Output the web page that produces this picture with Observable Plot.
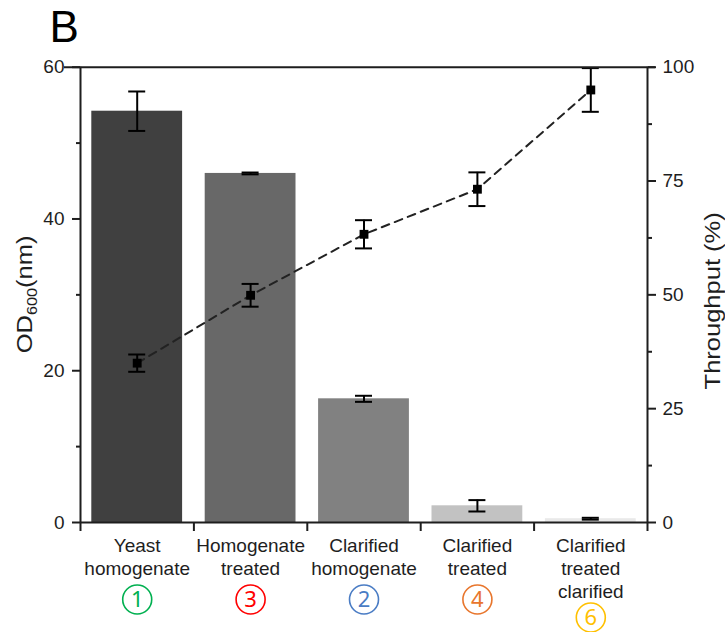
<!DOCTYPE html>
<html>
<head>
<meta charset="utf-8">
<script src="https://cdn.jsdelivr.net/npm/d3@7"></script>
<script src="https://cdn.jsdelivr.net/npm/@observablehq/plot@0.6"></script>
<style>
  body { margin: 0; background: #fff; }
  #chart svg { display: block; }
</style>
</head>
<body>
<div id="chart"></div>
<script>
// Process steps, in the order they are plotted
const categories = ["Yeast\nhomogenate", "Homogenate\ntreated", "Clarified\nhomogenate", "Clarified\ntreated", "Clarified\ntreated\nclarified"];
// Optical density at 600 nm (left axis) with standard deviation
const od600 = [54.2, 46.0, 16.3, 2.2, 0.5];
const od600Err = [2.6, 0.12, 0.4, 0.75, 0.12];
// Throughput in % (right axis) with standard deviation
const throughput = [35.0, 49.9, 63.3, 73.2, 95.0];
const throughputErr = [1.9, 2.5, 3.1, 3.7, 4.8];
// Step numbers shown in circles under each category
const stepLabels = ["1", "3", "2", "4", "6"];
const stepColors = ["#00b050", "#ff0000", "#4a7cc4", "#e8762d", "#ffc000"];
const barFills = ["#404040", "#686868", "#818181", "#c2c2c2", "#e9e9e9"];
// Axis ticks
const odTicks = [0, 20, 40, 60];
const odMinorTicks = [10, 30, 50];
const throughputTicks = [0, 25, 50, 75, 100];
const throughputMinorTicks = [12.5, 37.5, 62.5, 87.5];

const odMax = 60;
const toOd = (t) => t * odMax / 100; // throughput % mapped onto the OD axis

const rows = categories.map((c, i) => ({
  i,
  label: c,
  lines: c.split("\n").length,
  od: od600[i],
  odLo: od600[i] - od600Err[i],
  odHi: od600[i] + od600Err[i],
  tp: toOd(throughput[i]),
  tpLo: toOd(throughput[i] - throughputErr[i]),
  tpHi: toOd(throughput[i] + throughputErr[i]),
  fill: barFills[i],
  step: stepLabels[i],
  stepColor: stepColors[i]
}));
const mid = (d) => d.i + 0.5;
const caps = (lo, hi) => rows.flatMap((d) => [{c: mid(d), v: d[lo]}, {c: mid(d), v: d[hi]}]);

const ink = "#1e1e1e";
const font = "'Liberation Sans', Arial, sans-serif";
const titleStretch = 1.16; // axis titles are drawn elongated along their reading direction

const plot = Plot.plot({
  width: 725,
  height: 632,
  marginTop: 66.7,
  marginBottom: 110,
  marginLeft: 80,
  marginRight: 78,
  style: {fontFamily: font, fontSize: "19px", color: ink, background: "#fff"},
  x: {type: "linear", domain: [0, categories.length], axis: null},
  y: {domain: [0, odMax], axis: null},
  color: {type: "identity"},
  marks: [
    // bars
    Plot.rectY(rows, {x1: "i", x2: (d) => d.i + 1, y: "od", fill: "fill", insetLeft: 11.3, insetRight: 11.3}),
    // OD error bars
    Plot.ruleX(rows, {x: mid, y1: "odLo", y2: "odHi", stroke: "#000", strokeWidth: 2}),
    Plot.ruleY(caps("odLo", "odHi"), {x1: "c", x2: "c", y: "v", stroke: "#000", strokeWidth: 2, insetLeft: -8.5, insetRight: -8.5}),
    // throughput line with error bars
    Plot.line(rows, {x: mid, y: "tp", stroke: "#222", strokeWidth: 2, strokeDasharray: "8,6"}),
    Plot.ruleX(rows, {x: mid, y1: "tpLo", y2: "tpHi", stroke: "#000", strokeWidth: 2}),
    Plot.ruleY(caps("tpLo", "tpHi"), {x1: "c", x2: "c", y: "v", stroke: "#000", strokeWidth: 2, insetLeft: -8.5, insetRight: -8.5}),
    Plot.dot(rows, {x: mid, y: "tp", symbol: "square", r: 5, fill: "#000"}),
    // frame
    Plot.ruleX([0, categories.length], {stroke: ink, strokeWidth: 2}),
    Plot.ruleY([0], {stroke: ink, strokeWidth: 2}),
    Plot.ruleY([odMax], {stroke: ink, strokeWidth: 2, insetLeft: -16, insetRight: -8}),
    // left axis
    Plot.axisY({anchor: "left", ticks: odTicks, tickSize: 8, tickPadding: 8, fontSize: 19, label: null, strokeWidth: 2, stroke: ink, fill: ink}),
    Plot.axisY({anchor: "left", ticks: odMinorTicks, tickSize: 4, tickFormat: () => "", label: null, strokeWidth: 2, stroke: ink}),
    // right axis (throughput)
    Plot.axisY({anchor: "right", ticks: throughputTicks.map(toOd), tickFormat: (v) => Math.round(v * 100 / odMax), tickSize: 8, tickPadding: 7, fontSize: 19, label: null, strokeWidth: 2, stroke: ink, fill: ink}),
    Plot.axisY({anchor: "right", ticks: throughputMinorTicks.map(toOd), tickSize: 4, tickFormat: () => "", label: null, strokeWidth: 2, stroke: ink}),
    // bottom axis: ticks between categories
    Plot.axisX({ticks: d3.range(categories.length + 1), tickSize: 9, tickFormat: () => "", label: null, strokeWidth: 2, stroke: ink}),
    // category labels
    Plot.text(rows, {x: mid, y: 0, text: "label", lineAnchor: "top", dy: 12.5, fontSize: 19, lineHeight: 1.23, fill: ink}),
    // circled step numbers
    Plot.dot(rows.filter((d) => d.lines < 3), {x: mid, y: 0, dy: 77, r: 14.5, stroke: "stepColor", strokeWidth: 1.6, fill: "none"}),
    Plot.text(rows.filter((d) => d.lines < 3), {x: mid, y: 0, dy: 77, text: "step", fill: "stepColor", fontSize: 22, fontFamily: "Noto Sans", lineAnchor: "middle"}),
    Plot.dot(rows.filter((d) => d.lines >= 3), {x: mid, y: 0, dy: 95, r: 14.5, stroke: "stepColor", strokeWidth: 1.6, fill: "none"}),
    Plot.text(rows.filter((d) => d.lines >= 3), {x: mid, y: 0, dy: 95, text: "step", fill: "stepColor", fontSize: 22, fontFamily: "Noto Sans", lineAnchor: "middle"}),
    // right axis title
    Plot.text(["Throughput (%)"], {frameAnchor: "right", dx: 72, dy: 6, rotate: -90, text: (d) => d, fontSize: 22, textAnchor: "middle", lineAnchor: "bottom", fill: ink}),
    // panel letter
    Plot.text(["B"], {frameAnchor: "top-left", dx: -31, dy: -24.7, text: (d) => d, textAnchor: "start", lineAnchor: "bottom", fontSize: 44, fill: "#000"})
  ]
});

const svg = d3.select(plot);
// stretch the right title along its reading direction
svg.selectAll("text")
  .filter(function () { return this.textContent === "Throughput (%)"; })
  .attr("transform", function () { return this.getAttribute("transform") + ` scale(${titleStretch},1)`; });

// left axis title with subscript
const y = plot.scale("y");
const title = svg.append("text")
  .attr("transform", `translate(32,${y.apply(odMax / 2)}) rotate(-90) scale(${titleStretch},1)`)
  .attr("text-anchor", "middle")
  .attr("font-size", 22)
  .attr("font-family", font)
  .attr("fill", ink);
title.append("tspan").text("OD");
title.append("tspan").attr("font-size", 14).attr("dy", 5).text("600");
title.append("tspan").attr("dy", -5).text("(nm)");

document.getElementById("chart").appendChild(plot);
</script>
</body>
</html>
